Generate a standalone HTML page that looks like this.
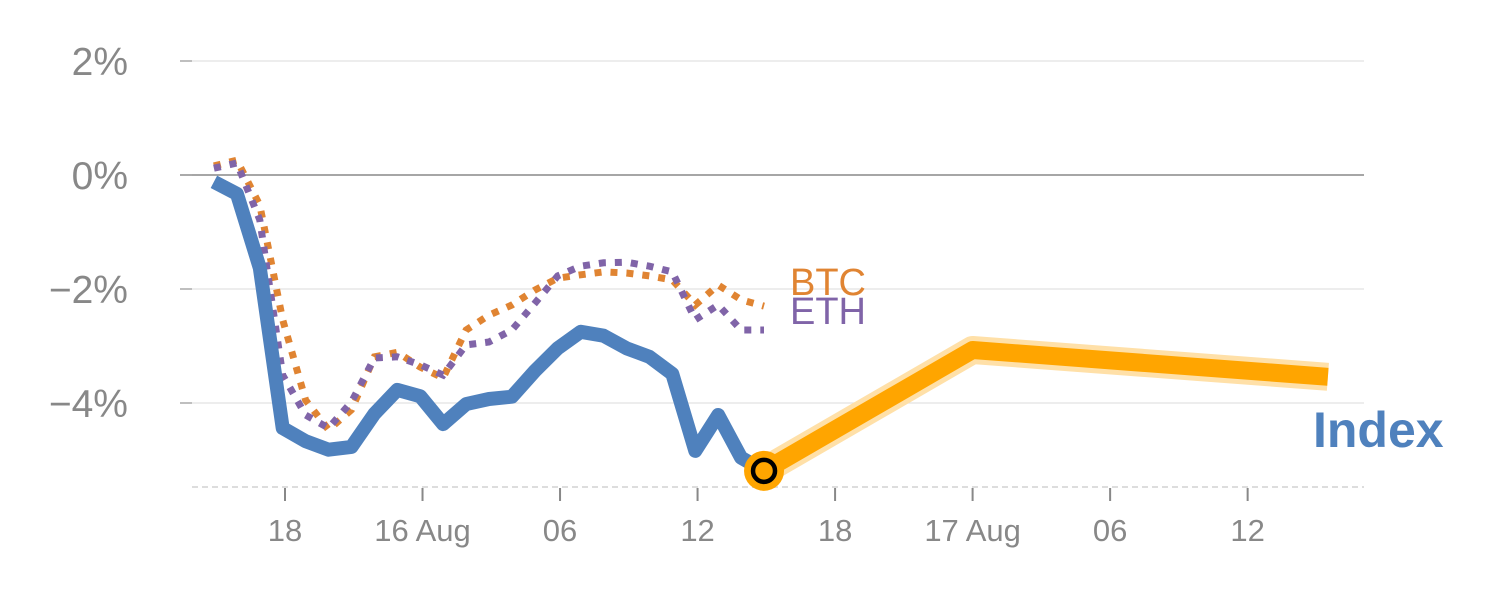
<!DOCTYPE html>
<html><head><meta charset="utf-8"><style>
body{margin:0;background:#fff;}
svg{display:block;font-family:"Liberation Sans",Arial,sans-serif;}
</style></head><body>
<svg id="chart" width="1500" height="600" viewBox="0 0 1500 600">
<g id="grid"></g><g id="series"></g><g id="labels"></g>
</svg>
<script>
const yTicks=[2,0,-2,-4];
const yTickLabels=["2%","0%","\u22122%","\u22124%"];
const xTicks=[0,6,12,18,24,30,36,42];
const xTickLabels=["18","16 Aug","06","12","18","17 Aug","06","12"];
const hours=[-3.1,-2.1,-1.1,-0.1,0.9,1.9,2.9,3.9,4.9,5.9,6.9,7.9,8.9,9.9,10.9,11.9,12.9,13.9,14.9,15.9,16.9,17.9,18.9,19.9,20.9];
const indexVals=[-0.12,-0.33,-1.63,-4.44,-4.67,-4.82,-4.77,-4.19,-3.77,-3.88,-4.37,-4.02,-3.93,-3.89,-3.44,-3.04,-2.75,-2.82,-3.04,-3.19,-3.49,-4.84,-4.21,-4.96,-5.19];
const btcVals=[0.16,0.26,-0.53,-2.54,-3.95,-4.47,-4.12,-3.19,-3.11,-3.37,-3.56,-2.72,-2.46,-2.28,-2.02,-1.81,-1.75,-1.70,-1.72,-1.77,-1.84,-2.28,-1.93,-2.19,-2.30];
const ethVals=[0.12,0.21,-0.79,-3.51,-4.21,-4.44,-3.98,-3.21,-3.19,-3.33,-3.51,-2.98,-2.93,-2.72,-2.25,-1.77,-1.60,-1.54,-1.53,-1.60,-1.70,-2.54,-2.28,-2.72,-2.72];
const projHours=[20.9,30,45.5];
const projVals=[-5.19,-3.07,-3.54];
const NS="http://www.w3.org/2000/svg";
const X=h=>285+h*22.92;
const Y=v=>175-v*57;
function mk(tag,attrs,parent,text){const e=document.createElementNS(NS,tag);for(const k in attrs)e.setAttribute(k,attrs[k]);if(text!==undefined)e.textContent=text;parent.appendChild(e);return e;}
const grid=document.getElementById('grid'),ser=document.getElementById('series'),lab=document.getElementById('labels');
yTicks.forEach((v,i)=>{
 const l=mk('line',{x1:180,x2:1364,y1:Y(v),y2:Y(v),stroke:v===0?'#888':'#e2e2e2','stroke-width':v===0?1.5:1.2},grid);
 
 
 const tk=mk('line',{x1:180,x2:192,y1:Y(v),y2:Y(v),stroke:'#999','stroke-width':1.2},grid);
 
 
 const t=mk('text',{x:128,y:Y(v)+14,'text-anchor':'end','font-size':39,fill:'#888'},lab,yTickLabels[i]);
 
 
});
const base=mk('line',{x1:192,x2:1364,y1:487,y2:487,stroke:'#ddd','stroke-width':2,'stroke-dasharray':'6,4'},grid);


xTicks.forEach((h,i)=>{
 const tk=mk('line',{x1:X(h),x2:X(h),y1:488,y2:501,stroke:'#888','stroke-width':2},grid);
 
 
 const t=mk('text',{x:X(h),y:541,'text-anchor':'middle','font-size':31,fill:'#888'},lab,xTickLabels[i]);
 
 
});
function pts(hs,vs){return hs.map((h,i)=>X(h).toFixed(1)+','+Y(vs[i]).toFixed(1)).join(' ');}
const btc=mk('polyline',{points:pts(hours,btcVals),fill:'none',stroke:'#e08432','stroke-width':7,'stroke-dasharray':'7,9'},ser);


const eth=mk('polyline',{points:pts(hours,ethVals),fill:'none',stroke:'#8064a8','stroke-width':7,'stroke-dasharray':'7,9'},ser);


const idx=mk('polyline',{points:pts(hours,indexVals),fill:'none',stroke:'#4f81bd','stroke-width':14,'stroke-linejoin':'round'},ser);


const halo=mk('polyline',{points:pts(projHours,projVals),fill:'none',stroke:'#ffe0a8','stroke-width':28,'stroke-linejoin':'round'},ser);


const proj=mk('polyline',{points:pts(projHours,projVals),fill:'none',stroke:'#ffa500','stroke-width':18,'stroke-linejoin':'round'},ser);


const n=indexVals.length-1;
const c1=mk('circle',{cx:X(hours[n]),cy:Y(indexVals[n]),r:20,fill:'#ffa500'},ser);


const c2=mk('circle',{cx:X(hours[n]),cy:Y(indexVals[n]),r:11,fill:'none',stroke:'#000','stroke-width':4.5},ser);


const lb=mk('text',{x:790,y:295,'font-size':38,fill:'#e08432'},lab,'BTC');


const le=mk('text',{x:790,y:324,'font-size':38,fill:'#8064a8'},lab,'ETH');


const li=mk('text',{x:1313,y:447,'font-size':50,'font-weight':'bold',fill:'#4f81bd'},lab,'Index');


</script>
</body></html>
